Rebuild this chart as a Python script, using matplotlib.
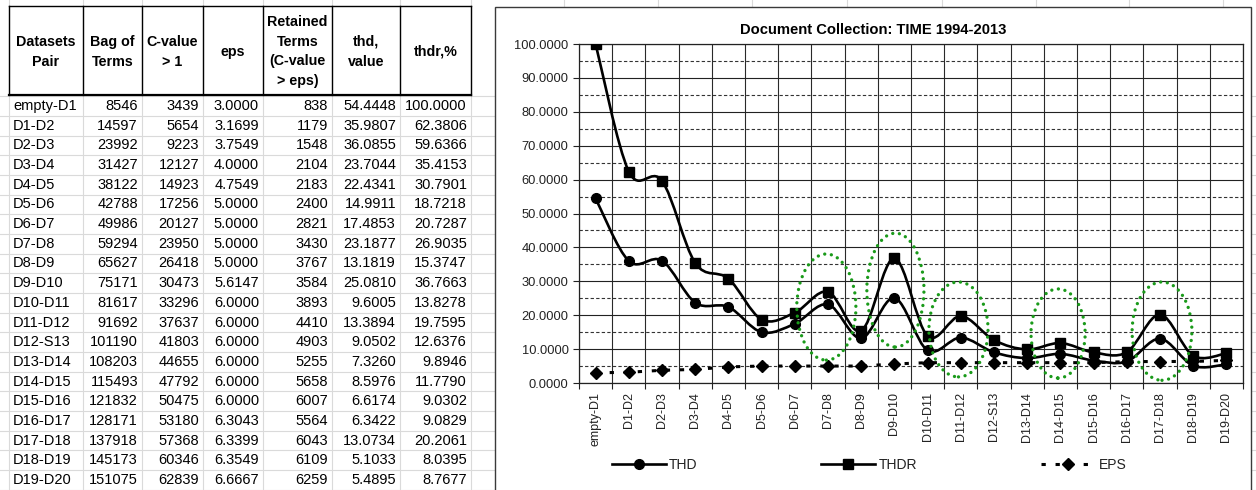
import numpy as np
import matplotlib
matplotlib.use('Agg')
import matplotlib.pyplot as plt
from matplotlib.path import Path
from matplotlib.patches import PathPatch, Ellipse, Rectangle
from matplotlib.lines import Line2D

plt.rcParams['font.family'] = ['Liberation Sans', 'DejaVu Sans']

# ---------------- data ----------------
pairs = ['empty-D1', 'D1-D2', 'D2-D3', 'D3-D4', 'D4-D5', 'D5-D6', 'D6-D7', 'D7-D8',
         'D8-D9', 'D9-D10', 'D10-D11', 'D11-D12', 'D12-S13', 'D13-D14', 'D14-D15',
         'D15-D16', 'D16-D17', 'D17-D18', 'D18-D19', 'D19-D20']
bag_of_terms = [8546, 14597, 23992, 31427, 38122, 42788, 49986, 59294, 65627, 75171,
                81617, 91692, 101190, 108203, 115493, 121832, 128171, 137918, 145173, 151075]
cvalue_gt1 = [3439, 5654, 9223, 12127, 14923, 17256, 20127, 23950, 26418, 30473,
              33296, 37637, 41803, 44655, 47792, 50475, 53180, 57368, 60346, 62839]
eps = [3.0000, 3.1699, 3.7549, 4.0000, 4.7549, 5.0000, 5.0000, 5.0000, 5.0000, 5.6147,
       6.0000, 6.0000, 6.0000, 6.0000, 6.0000, 6.0000, 6.3043, 6.3399, 6.3549, 6.6667]
retained = [838, 1179, 1548, 2104, 2183, 2400, 2821, 3430, 3767, 3584,
            3893, 4410, 4903, 5255, 5658, 6007, 5564, 6043, 6109, 6259]
thd = [54.4448, 35.9807, 36.0855, 23.7044, 22.4341, 14.9911, 17.4853, 23.1877, 13.1819, 25.0810,
       9.6005, 13.3894, 9.0502, 7.3260, 8.5976, 6.6174, 6.3422, 13.0734, 5.1033, 5.4895]
thdr = [100.0000, 62.3806, 59.6366, 35.4153, 30.7901, 18.7218, 20.7287, 26.9035, 15.3747, 36.7663,
        13.8278, 19.7595, 12.6376, 9.8946, 11.7790, 9.0302, 9.0829, 20.2061, 8.0395, 8.7677]

header_labels = ['Datasets\nPair', 'Bag of\nTerms', 'C-value\n> 1', 'eps',
                 'Retained\nTerms\n(C-value\n> eps)', 'thd,\nvalue', 'thdr,%']
chart_title = 'Document Collection: TIME 1994-2013'
series_names = ['THD', 'THDR', 'EPS']
highlighted = ['D7-D8', 'D9-D10', 'D11-D12', 'D14-D15', 'D17-D18']

# ---------------- figure ----------------
W, H = 1256, 490
fig = plt.figure(figsize=(W / 100, H / 100), dpi=100)
bg = fig.add_axes([0, 0, 1, 1])
bg.set_xlim(0, W)
bg.set_ylim(H, 0)
bg.axis('off')

GRAY = '#dadada'
col_x = [9, 83, 142, 203, 263, 332, 400, 471]
head_top, head_bot = 6, 95.5
row_h = 19.68
row_top0 = 96.2

# spreadsheet background grid
k = 0
while row_top0 + k * row_h < H + 1:
    y = row_top0 + k * row_h
    bg.plot([0, W], [y, y], color=GRAY, lw=0.8, zorder=0)
    k += 1
for x in col_x + [564, 658, 752, 847, 942, 1036, 1129, 1223]:
    bg.plot([x, x], [0, H], color=GRAY, lw=0.8, zorder=0)

# chart frame
bg.add_patch(Rectangle((495, 7), 1251 - 495, H, facecolor='white',
                       edgecolor='#3a3a3a', lw=1.0, zorder=1))

# table header
for x in col_x:
    bg.plot([x, x], [head_top, head_bot], color='black', lw=1.0, zorder=3)
bg.plot([col_x[0], col_x[-1]], [head_top, head_top], color='black', lw=1.0, zorder=3)
bg.plot([col_x[0], col_x[-1]], [head_bot, head_bot], color='black', lw=1.6, zorder=3)
for i, lab in enumerate(header_labels):
    cx = (col_x[i] + col_x[i + 1]) / 2
    bg.text(cx, (head_top + head_bot) / 2 + 1, lab, ha='center', va='center',
            fontsize=10.3, fontweight='bold', linespacing=1.5, zorder=4)

# table body
columns = [pairs, bag_of_terms, cvalue_gt1,
           ['%.4f' % v for v in eps], retained,
           ['%.4f' % v for v in thd], ['%.4f' % v for v in thdr]]
for r in range(len(pairs)):
    yc = row_top0 + r * row_h + row_h / 2
    for c, col in enumerate(columns):
        val = str(col[r])
        if c == 0:
            bg.text(col_x[0] + 4, yc, val, ha='left', va='center', fontsize=10.5, zorder=4)
        else:
            bg.text(col_x[c + 1] - 4, yc, val, ha='right', va='center', fontsize=10.5, zorder=4)

fig.text(873 / W, 1 - 29.5 / H, chart_title, ha='center', va='center',
         fontsize=10.6, fontweight='bold')

# ---------------- chart ----------------
left, right, top, bottom = 579, 1243, 44, 383
ax = fig.add_axes([left / W, 1 - bottom / H, (right - left) / W, (bottom - top) / H])
ax.set_facecolor('none')
xs = np.arange(len(pairs))
ax.set_xlim(-0.5, len(pairs) - 0.5)
ax.set_ylim(0, 100)


def smooth_path(x, y, t=1 / 6):
    pts = np.column_stack([x, y]).astype(float)
    n = len(pts)
    verts = [pts[0]]
    codes = [Path.MOVETO]
    for i in range(n - 1):
        p0 = pts[i - 1] if i > 0 else pts[i]
        p1, p2 = pts[i], pts[i + 1]
        p3 = pts[i + 2] if i + 2 < n else pts[i + 1]
        verts += [p1 + (p2 - p0) * t, p2 - (p3 - p1) * t, p2]
        codes += [Path.CURVE4] * 3
    return Path(verts, codes)


ax.add_patch(PathPatch(smooth_path(xs, thd), fill=False, edgecolor='black', lw=1.9, zorder=4))
ax.add_patch(PathPatch(smooth_path(xs, thdr), fill=False, edgecolor='black', lw=1.9, zorder=4))
ax.plot(xs, thd, linestyle='none', marker='o', ms=7, color='black', zorder=5)
ax.plot(xs, thdr, linestyle='none', marker='s', ms=7.8, color='black', zorder=5)
ax.plot(xs, eps, color='black', lw=2.2, dashes=(1.4, 3.2), marker='D', ms=6.4, zorder=5)

# highlight ellipses (annotation shapes)
ell_specs = {'D7-D8': (-0.05, 22.4, 1.78, 31.3), 'D9-D10': (0.03, 27.4, 1.72, 33.6),
             'D11-D12': (-0.07, 15.8, 1.78, 28.0), 'D14-D15': (-0.07, 14.6, 1.63, 26.3),
             'D17-D18': (0.06, 15.3, 1.80, 29.0)}
for name in highlighted:
    dx, yc, w, h = ell_specs[name]
    e = Ellipse((pairs.index(name) + dx, yc), w, h, fill=False, edgecolor='#1a9a1a',
                lw=2.4, linestyle=(0, (0.01, 2.0)), zorder=6)
    e.set_capstyle('round')
    ax.add_patch(e)

# grid & ticks
ax.set_yticks(np.arange(0, 101, 10))
ax.set_yticks(np.arange(5, 100, 10), minor=True)
ax.set_yticklabels(['%.4f' % v for v in np.arange(0, 101, 10)])
ax.set_xticks(np.arange(-0.5, len(pairs), 1))
ax.set_xticklabels([])
ax.set_xticks(xs, minor=True)
ax.set_xticklabels(pairs, minor=True, rotation=90, va='top')
ax.grid(True, which='major', axis='y', color='#222222', lw=0.8, zorder=1)
ax.grid(True, which='minor', axis='y', color='#333333', lw=0.8, linestyle=(0, (3, 2)), zorder=1)
ax.grid(True, which='major', axis='x', color='#2a2a2a', lw=0.8, zorder=1)
ax.set_axisbelow(True)
ax.tick_params(axis='y', which='major', length=4, direction='out', labelsize=9.3,
               pad=3.5, colors='#222222')
ax.tick_params(axis='y', which='minor', length=0)
ax.tick_params(axis='x', which='major', length=4, direction='out', color='#222222')
ax.tick_params(axis='x', which='minor', length=0, pad=6.5, labelsize=9, labelcolor='#222222')
for s in ax.spines.values():
    s.set_color('#222222')
    s.set_linewidth(0.9)

handles = [Line2D([], [], color='black', lw=1.9, marker='o', ms=7),
           Line2D([], [], color='black', lw=1.9, marker='s', ms=7.8),
           Line2D([], [], color='black', lw=2.2, dashes=(1.4, 3.2), marker='D', ms=6.4)]
fig.legend(handles, series_names, loc='center', bbox_to_anchor=(869 / W, 1 - 465 / H),
           ncol=3, frameon=False, handlelength=3.9, columnspacing=8.9,
           handletextpad=0.25, fontsize=10, labelcolor='#222222')

fig.savefig('out.png', dpi=100)
